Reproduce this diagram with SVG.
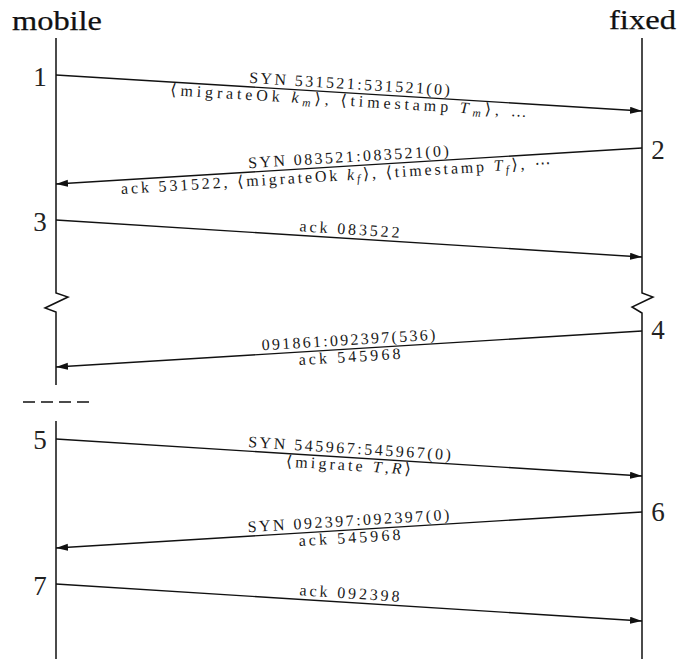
<svg xmlns="http://www.w3.org/2000/svg" width="681" height="659" viewBox="0 0 681 659">
<style>
.life{fill:none;stroke:#111;stroke-width:1.5}
.msg{fill:none;stroke:#111;stroke-width:1.4;marker-end:url(#ah)}
.hd{font-family:"Liberation Serif","DejaVu Serif",serif;font-size:27px;fill:#111;stroke:#111;stroke-width:0.25}
.num{font-family:"Liberation Serif","DejaVu Serif",serif;font-size:27px;fill:#222;text-anchor:middle}
.lbl{font-family:"Liberation Serif","DejaVu Serif",serif;font-size:16px;fill:#1a1a1a;text-anchor:middle}
.it{font-style:italic}
.sub{font-style:italic;font-size:11.5px}
</style>
<defs>
<marker id="ah" markerUnits="userSpaceOnUse" markerWidth="13" markerHeight="8" refX="12" refY="3.5" orient="auto">
<path d="M0,0 L12,3.5 L0,7 z" fill="#111"/>
</marker>
</defs>
<g id="mobile">
<text class="hd" x="12" y="30" textLength="90" lengthAdjust="spacingAndGlyphs">mobile</text>
<path class="life" d="M56,38 V293 L68,297 L45,308 L56,312 V385 M56,421 V659"/>
<path d="M23,402 H89" stroke="#111" stroke-width="1.5" stroke-dasharray="12,6"/>
</g>
<g id="fixed">
<text class="hd" x="609" y="29" textLength="67" lengthAdjust="spacingAndGlyphs">fixed</text>
<path class="life" d="M642,38 V293 L653,297 L632,307 L642,313 V659"/>
</g>
<g id="steps">
<text class="num" x="40" y="86">1</text>
<text class="num" x="658" y="159">2</text>
<text class="num" x="40" y="231">3</text>
<text class="num" x="658" y="339">4</text>
<text class="num" x="40" y="449">5</text>
<text class="num" x="658" y="521">6</text>
<text class="num" x="40" y="595">7</text>
</g>
<g id="connectors">
<path class="msg" d="M56,75 L642,111"/>
<path class="msg" d="M642,148 L56,184"/>
<path class="msg" d="M56,220 L642,257"/>
<path class="msg" d="M642,331 L56,367"/>
<path class="msg" d="M56,439 L642,476"/>
<path class="msg" d="M642,512 L56,548"/>
<path class="msg" d="M56,584 L642,621"/>
</g>
<g id="labels">
<g transform="translate(349,93) rotate(3.52)">
<text class="lbl" y="-4" textLength="201" lengthAdjust="spacing">SYN 531521:531521(0)</text>
<text class="lbl" y="13" textLength="357" lengthAdjust="spacing">⟨migrateOk <tspan class="it">k</tspan><tspan class="sub" dy="3">m</tspan><tspan dy="-3">⟩, ⟨timestamp </tspan><tspan class="it">T</tspan><tspan class="sub" dy="3">m</tspan><tspan dy="-3">⟩, …</tspan></text>
</g>
<g transform="translate(349,166) rotate(-3.52)">
<text class="lbl" y="-4" textLength="201" lengthAdjust="spacing">SYN 083521:083521(0)</text>
<text class="lbl" x="-14" y="14" textLength="430" lengthAdjust="spacing">ack 531522, ⟨migrateOk <tspan class="it">k</tspan><tspan class="sub" dy="3">f</tspan><tspan dy="-3">⟩, ⟨timestamp </tspan><tspan class="it">T</tspan><tspan class="sub" dy="3">f</tspan><tspan dy="-3">⟩, ⋯</tspan></text>
</g>
<g transform="translate(349,238.5) rotate(3.61)">
<text class="lbl" y="-4" textLength="100" lengthAdjust="spacing">ack 083522</text>
</g>
<g transform="translate(349,349) rotate(-3.52)">
<text class="lbl" y="-4" textLength="174" lengthAdjust="spacing">091861:092397(536)</text>
<text class="lbl" y="13" textLength="102" lengthAdjust="spacing">ack 545968</text>
</g>
<g transform="translate(349,457.5) rotate(3.61)">
<text class="lbl" y="-4" textLength="203" lengthAdjust="spacing">SYN 545967:545967(0)</text>
<text class="lbl" y="13" textLength="125" lengthAdjust="spacing">⟨migrate <tspan class="it">T</tspan>,<tspan class="it">R</tspan>⟩</text>
</g>
<g transform="translate(349,530) rotate(-3.52)">
<text class="lbl" y="-4" textLength="202" lengthAdjust="spacing">SYN 092397:092397(0)</text>
<text class="lbl" y="13" textLength="102" lengthAdjust="spacing">ack 545968</text>
</g>
<g transform="translate(349,602.5) rotate(3.61)">
<text class="lbl" y="-4" textLength="100" lengthAdjust="spacing">ack 092398</text>
</g>
</g>
</svg>
